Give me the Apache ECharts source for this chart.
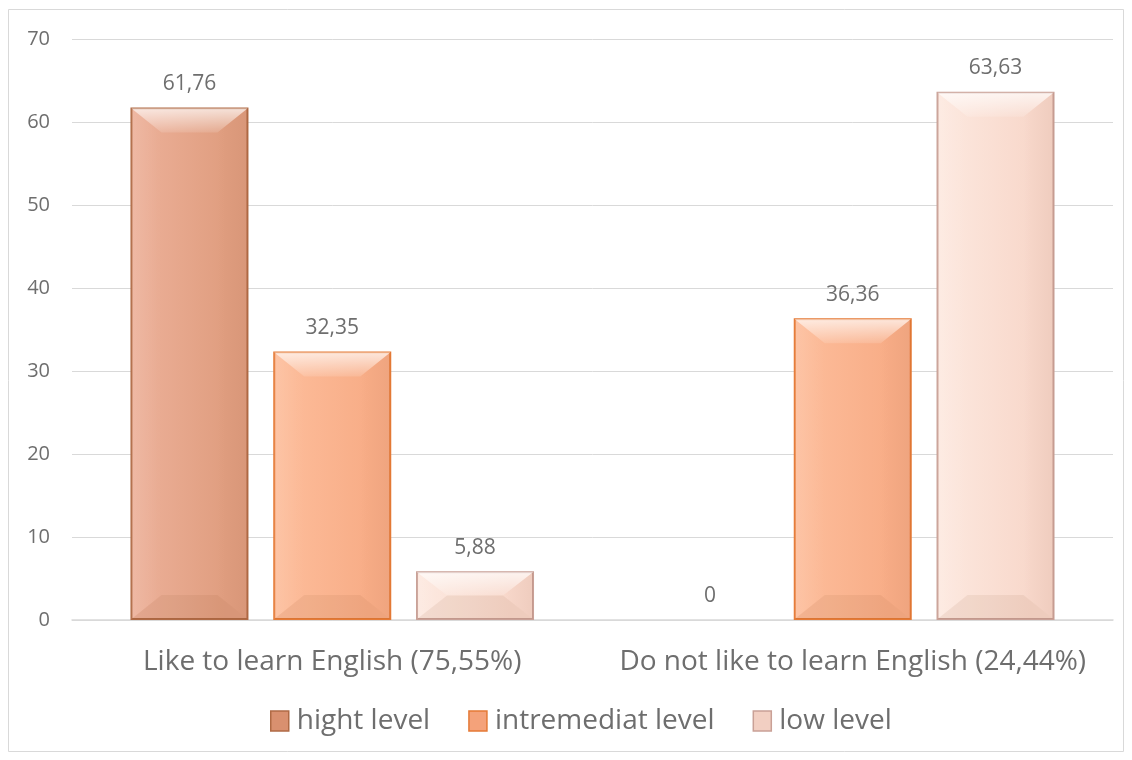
<!DOCTYPE html>
<html>
<head>
<meta charset="utf-8">
<script src="https://cdn.jsdelivr.net/npm/echarts@6/dist/echarts.min.js"></script>
<style>
  html, body { margin: 0; padding: 0; background: #fff; }
  #chart { width: 1132px; height: 760px; }
</style>
</head>
<body>
<div id="chart"></div>
<script>
const categories = ['Like to learn English (75,55%)', 'Do not like to learn English (24,44%)'];
const seriesNames = ['hight level', 'intremediat level', 'low level'];
const hightValues = [61.76, 0];
const intermediateValues = [32.35, 36.36];
const lowValues = [5.88, 63.63];
const yTicks = {min: 0, max: 70, interval: 10};

const BAR_W = 118;
const BAR_GAP = 0.21;

const grad = (a, b) => new echarts.graphic.LinearGradient(0, 0, 1, 0, [
    {offset: 0, color: a},
    {offset: 0.8, color: b},
    {offset: 1, color: b}
]);

const styles = [
    {fill: grad('#EDB19A', '#E09E80'), border: '#B06A45', legend: '#D9906F'},
    {fill: grad('#FDBE9C', '#F8AD87'), border: '#E57A36', legend: '#F4A27A'},
    {fill: grad('#FDE9E0', '#F8D8CB'), border: '#C9A096', legend: '#F2CFC2'}
];

const fmt = p => String(p.value).replace('.', ',');

const makeSeries = (name, data, i) => ({
    name: name,
    type: 'bar',
    data: data.map(v => v === 0 ? {value: v, itemStyle: {borderWidth: 0}} : v),
    barWidth: BAR_W,
    barGap: (BAR_GAP * 100) + '%',
    itemStyle: {color: styles[i].fill, borderColor: styles[i].border, borderWidth: 2},
    label: {
        show: true,
        position: 'top',
        distance: 13,
        color: '#6e6e6e',
        fontSize: 21,
        fontFamily: 'Open Sans',
        formatter: fmt
    }
});

// bevel overlay drawn over each bar, positioned with the axis scales
const makeBevel = (data, i) => ({
    name: 'bevel' + i,
    type: 'custom',
    silent: true,
    z: 3,
    data: data.map((v, k) => [k, v]),
    encode: {x: 0, y: 1},
    renderItem: (params, api) => {
        const val = api.value(1);
        if (!val) return;
        const base = api.coord([api.value(0), 0]);
        const top = api.coord([api.value(0), val]);
        const gap = BAR_W * BAR_GAP;
        const total = 3 * BAR_W + 2 * gap;
        const x0 = base[0] - total / 2 + i * (BAR_W + gap) + 1;
        const x1 = x0 + BAR_W - 2;
        const y0 = top[1] + 1;
        const y1 = base[1] - 1;
        const h = y1 - y0;
        const d = Math.min(24, h / 2);
        const e = Math.min(30, (x1 - x0) / 2);
        return {
            type: 'group',
            children: [
                {type: 'polygon', shape: {points: [[x0, y0], [x1, y0], [x1 - e, y0 + d], [x0 + e, y0 + d]]},
                    style: {fill: new echarts.graphic.LinearGradient(0, 0, 0, 1, [
                        {offset: 0, color: 'rgba(255,255,255,0.7)'},
                        {offset: 1, color: 'rgba(255,255,255,0.12)'}])}},
                {type: 'polygon', shape: {points: [[x0, y0], [x0 + e, y0 + d], [x0 + e, y1 - d], [x0, y1]]},
                    style: {fill: new echarts.graphic.LinearGradient(0, 0, 1, 0, [
                        {offset: 0, color: 'rgba(255,255,255,0.1)'},
                        {offset: 1, color: 'rgba(255,255,255,0)'}])}},
                {type: 'polygon', shape: {points: [[x1, y0], [x1 - e, y0 + d], [x1 - e, y1 - d], [x1, y1]]},
                    style: {fill: new echarts.graphic.LinearGradient(0, 0, 1, 0, [
                        {offset: 0, color: 'rgba(120,50,20,0)'},
                        {offset: 1, color: 'rgba(120,50,20,0.07)'}])}},
                {type: 'polygon', shape: {points: [[x0, y1], [x0 + e, y1 - d], [x1 - e, y1 - d], [x1, y1]]},
                    style: {fill: 'rgba(120,50,20,0.07)'}}
            ]
        };
    }
});

const chart = echarts.init(document.getElementById('chart'));
chart.setOption({
    animation: false,
    backgroundColor: '#fff',
    graphic: [{
        type: 'rect',
        shape: {x: 8.5, y: 9.5, width: 1115, height: 742},
        style: {fill: 'none', stroke: '#d9d9d9', lineWidth: 1},
        silent: true
    }],
    grid: {left: 72, right: 19, top: 39, bottom: 140},
    legend: {
        bottom: 20,
        left: 265,
        itemWidth: 18,
        itemHeight: 20,
        itemGap: 38,
        icon: 'rect',
        textStyle: {color: '#6e6e6e', fontSize: 28, fontFamily: 'Open Sans', padding: [0, 0, 0, 3]},
        data: seriesNames.map((n, i) => ({name: n, itemStyle: {color: styles[i].legend, borderColor: styles[i].border, borderWidth: 1.5}}))
    },
    xAxis: {
        type: 'category',
        data: categories,
        axisLine: {show: true, lineStyle: {color: '#d9d9d9', width: 1.5}},
        axisTick: {show: false},
        axisLabel: {color: '#6e6e6e', fontSize: 28, fontFamily: 'Open Sans', margin: 28, interval: 0, hideOverlap: false}
    },
    yAxis: {
        type: 'value',
        min: yTicks.min,
        max: yTicks.max,
        interval: yTicks.interval,
        axisLine: {show: false},
        axisTick: {show: false},
        splitLine: {lineStyle: {color: '#d9d9d9', width: 1}},
        axisLabel: {color: '#6e6e6e', fontSize: 20, fontFamily: 'Open Sans', margin: 22}
    },
    series: [
        makeSeries(seriesNames[0], hightValues, 0),
        makeSeries(seriesNames[1], intermediateValues, 1),
        makeSeries(seriesNames[2], lowValues, 2),
        makeBevel(hightValues, 0),
        makeBevel(intermediateValues, 1),
        makeBevel(lowValues, 2)
    ]
});
</script>
</body>
</html>
